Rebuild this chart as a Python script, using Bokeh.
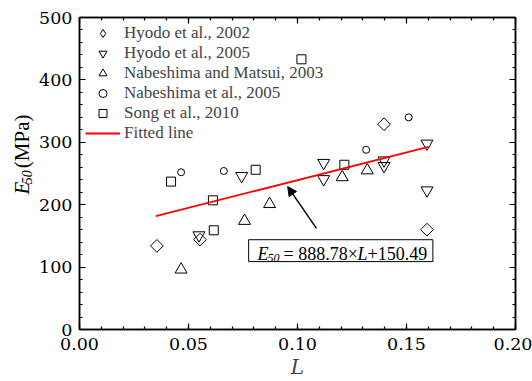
import numpy as np
from bokeh.plotting import figure
from bokeh.layouts import row
from bokeh.models import (SingleIntervalTicker, LinearAxis, Label, Arrow, NormalHead,
                          BoxAnnotation, PrintfTickFormatter, CustomLabelingPolicy, Range1d)
from bokeh.embed import file_html
from bokeh.resources import INLINE

# ---- data ----
hyodo2002_L = [0.0355, 0.0553, 0.1397, 0.1594]
hyodo2002_E = [134, 144, 329, 160]
hyodo2005_L = [0.0548, 0.0744, 0.1120, 0.1120, 0.1397, 0.1397, 0.1594, 0.1594]
hyodo2005_E = [151, 246, 267, 241, 271, 262, 298, 223]
nm2003_L = [0.0466, 0.0757, 0.0872, 0.1205, 0.1320]
nm2003_E = [96, 174, 201, 244, 255]
nab2005_L = [0.0466, 0.0662, 0.1315, 0.1510]
nab2005_E = [252, 254, 288, 340]
song2010_L = [0.0420, 0.0612, 0.0616, 0.0808, 0.1018, 0.1215]
song2010_E = [237, 207, 159, 256, 433, 264]
fit_L = [0.035, 0.160]
fit_E = [181.6, 292.7]

legend_labels = ["Hyodo et al., 2002", "Hyodo et al., 2005", "Nabeshima and Matsui, 2003",
                 "Nabeshima et al., 2005", "Song et al., 2010", "Fitted line"]

FONT = "Times New Roman"      # annotations / legend
AXFONT = "DejaVu Serif"       # axis texts

p = figure(width=496, height=381, x_range=(0, 0.2), y_range=(0, 500),
           output_backend="svg", toolbar_location=None,
           min_border_left=41, min_border_right=17, min_border_top=17, min_border_bottom=50)
p.grid.visible = False
p.outline_line_color = "black"
p.outline_line_width = 1.5

no_labels = CustomLabelingPolicy(code="for (const i of indices) indices.unset(i)")

def style_axis(ax, ticker, labels=True):
    ax.ticker = ticker
    ax.axis_line_color = "black"
    ax.axis_line_width = 1.5
    ax.major_tick_in = 6
    ax.major_tick_out = 0
    ax.minor_tick_in = 3
    ax.minor_tick_out = 0
    ax.major_tick_line_color = "black"
    ax.minor_tick_line_color = "black"
    ax.major_tick_line_width = 1.2
    ax.minor_tick_line_width = 1.2
    ax.major_label_text_font = AXFONT
    ax.major_label_text_font_style = "normal"
    ax.major_label_text_color = "black"
    if labels:
        ax.major_label_text_font_size = "17.5px"
    else:
        ax.major_label_text_font_size = "0px"
        ax.major_label_policy = no_labels

style_axis(p.xaxis[0], SingleIntervalTicker(interval=0.05, num_minor_ticks=5))
p.xaxis[0].formatter = PrintfTickFormatter(format="%.2f")
p.xaxis[0].major_label_standoff = 8
p.xaxis[0].axis_label = "L"
p.xaxis[0].axis_label_text_font = AXFONT
p.xaxis[0].axis_label_text_font_style = "italic"
p.xaxis[0].axis_label_text_font_size = "20px"
p.xaxis[0].axis_label_standoff = 2
style_axis(p.yaxis[0], SingleIntervalTicker(interval=100, num_minor_ticks=5))
p.yaxis[0].major_label_standoff = 7

top_ax = LinearAxis()
style_axis(top_ax, SingleIntervalTicker(interval=0.05, num_minor_ticks=5), labels=False)
right_ax = LinearAxis()
style_axis(right_ax, SingleIntervalTicker(interval=100, num_minor_ticks=5), labels=False)
p.add_layout(top_ax, "above")
p.add_layout(right_ax, "right")

mk = dict(fill_color=None, line_color="black", line_width=1)
# plotted diamonds (rotated squares)
p.scatter(hyodo2002_L, hyodo2002_E, marker="square", angle=np.pi / 4, size=9, **mk)
# legend entry for the diamonds (zero-size in the plot, drawn only in the legend)
p.scatter(hyodo2002_L, hyodo2002_E, marker="diamond", size=0,
          legend_label=legend_labels[0], **mk)
p.scatter(hyodo2005_L, hyodo2005_E, marker="inverted_triangle", size=12,
          legend_label=legend_labels[1], **mk)
p.scatter(nm2003_L, nm2003_E, marker="triangle", size=12,
          legend_label=legend_labels[2], **mk)
p.scatter(nab2005_L, nab2005_E, marker="circle", size=7,
          legend_label=legend_labels[3], **mk)
p.scatter(song2010_L, song2010_E, marker="square", size=9,
          legend_label=legend_labels[4], **mk)
p.line(fit_L, fit_E, line_color="red", line_width=1.8, legend_label=legend_labels[5])

lg = p.legend[0]
lg.location = "top_left"
lg.margin = 6
lg.padding = 0
lg.spacing = 0
lg.glyph_width = 35
lg.glyph_height = 20
lg.label_height = 20
lg.label_standoff = 4
lg.label_text_font = FONT
lg.label_text_font_size = "17px"
lg.border_line_color = None
lg.background_fill_alpha = 0

# arrow
p.add_layout(Arrow(end=NormalHead(size=9, fill_color="black", line_color="black"),
                   x_start=0.1087, y_start=162, x_end=0.0955, y_end=229,
                   line_color="black", line_width=1.5))

# equation box
p.add_layout(BoxAnnotation(left=0.0776, right=0.1621, bottom=108.8, top=143.9,
                           fill_alpha=0, line_color="black", line_width=1, line_alpha=1))

def lab(fig, x, y, text, size, style="normal", angle=0.0, units="screen"):
    fig.add_layout(Label(x=x, y=y, x_units=units, y_units=units, text=text,
                         text_font=FONT, text_font_size=size, text_font_style=style,
                         text_align="left", text_baseline="middle", angle=angle,
                         text_color="black"))

# equation text
lab(p, 178, 76, "E", "18px", "italic")
lab(p, 188, 72, "50", "12px", "italic")
lab(p, 204, 76, "= 888.78×", "18px")
lab(p, 278, 76, "L", "18px", "italic")
lab(p, 288, 76, "+150.49", "18px")

# left strip holding the y-axis title
ys = figure(width=36, height=381, x_range=Range1d(0, 36), y_range=Range1d(381, 0),
            output_backend="svg", toolbar_location=None, min_border=0,
            x_axis_type=None, y_axis_type=None, outline_line_color=None)
ys.grid.visible = False
lab(ys, 21, 216, "E", "21px", "italic", np.pi / 2, "data")
lab(ys, 26.3, 203.5, "50", "14px", "italic", np.pi / 2, "data")
lab(ys, 21, 184, "(MPa)", "21px", "normal", np.pi / 2, "data")

layout = row(ys, p, spacing=0)
open("out.html", "w").write(file_html(layout, INLINE))
